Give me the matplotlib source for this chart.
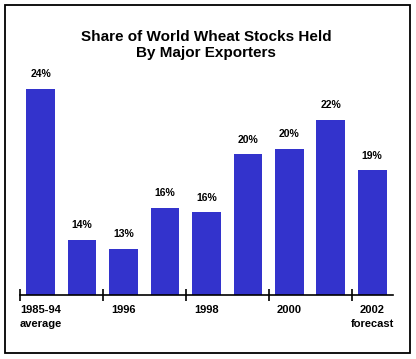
import matplotlib.pyplot as plt
from matplotlib.patches import Rectangle

# share of world wheat stocks held by major exporters (percent)
years = ['1985-94\naverage', '1995', '1996', '1997', '1998', '1999', '2000', '2001', '2002\nforecast']
shares = [24.2, 13.8, 13.2, 16.0, 15.7, 19.7, 20.1, 22.1, 18.6]
bar_labels = ['24%', '14%', '13%', '16%', '16%', '20%', '20%', '22%', '19%']
shown_ticks = [0, 2, 4, 6, 8]
shown_labels = ['1985-94\naverage', '1996', '1998', '2000', '2002\nforecast']
tick_marks = [-0.5, 1.5, 3.5, 5.5, 7.5]

plt.rcParams['font.family'] = ['Liberation Sans', 'DejaVu Sans']

fig = plt.figure(figsize=(4.16, 3.59), dpi=100)
ax = fig.add_axes([0.048, 0.1783, 0.8966, 0.6267])

pos = list(range(len(shares)))
ax.bar(pos, shares, width=0.69, bottom=0, color='#3333CC')
# bar value labels
for x, y, s in zip(pos, shares, bar_labels):
    ax.annotate(s, (x, y), xytext=(0, 7), textcoords='offset points',
                ha='center', va='bottom', fontsize=7.5, fontweight='bold')

ax.set_xlim(-0.5, 8.5)
ax.set_ylim(10, 25.52)

for side in ['top', 'right', 'left']:
    ax.spines[side].set_visible(False)
ax.spines['bottom'].set_linewidth(1.2)
ax.set_yticks([])

ax.set_xticks(tick_marks)
ax.set_xticklabels([])
ax.tick_params(axis='x', which='major', direction='inout', length=8, width=1.2)
ax.set_xticks(shown_ticks, minor=True)
ax.set_xticklabels(shown_labels, minor=True, fontsize=8, fontweight='bold', linespacing=1.5)
ax.tick_params(axis='x', which='minor', length=0, pad=7)

fig.text(0.495, 0.897, 'Share of World Wheat Stocks Held', ha='center', va='center',
         fontsize=11, fontweight='bold')
fig.text(0.495, 0.853, 'By Major Exporters', ha='center', va='center',
         fontsize=11, fontweight='bold')

# frame around whole picture
fig.patches.append(Rectangle((0.012, 0.0167), 0.9736, 0.969, transform=fig.transFigure,
                             fill=False, edgecolor='black', linewidth=1.3))

fig.savefig('out.png', dpi=100)
